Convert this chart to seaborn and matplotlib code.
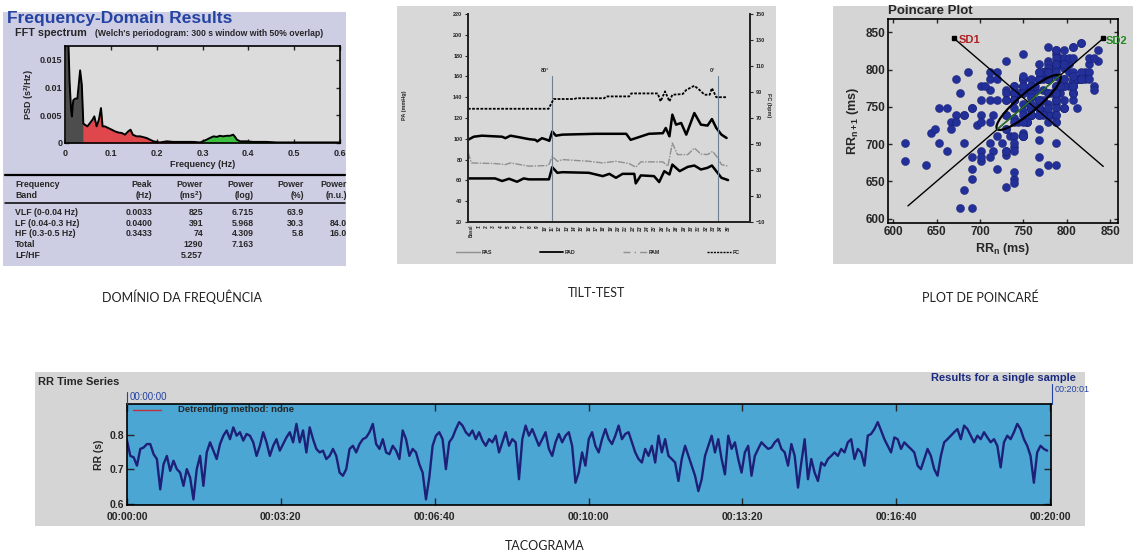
import numpy as np
import matplotlib
matplotlib.use("Agg")
import matplotlib.pyplot as plt
from matplotlib.patches import Rectangle, Ellipse
from matplotlib.lines import Line2D
import seaborn as sns

# ---------------- DATA ----------------
# FFT spectrum (Welch)
fft_freq = [0.000, 0.0033, 0.0067, 0.0100, 0.0133, 0.0150, 0.0180, 0.0220, 0.0270, 0.0330,
            0.0367, 0.0400, 0.0433, 0.0490, 0.0545, 0.0600, 0.0640, 0.0690, 0.0740, 0.0785,
            0.0820, 0.0870, 0.0945, 0.1020, 0.1090, 0.1160, 0.1240, 0.1310, 0.1380, 0.1430,
            0.1480, 0.1560, 0.1640, 0.1780, 0.1930, 0.2070, 0.2220, 0.2360, 0.2510, 0.2650,
            0.2800, 0.2950, 0.3090, 0.3160, 0.3240, 0.3310, 0.3380, 0.3450, 0.3530, 0.3600,
            0.3670, 0.3710, 0.3750, 0.3820, 0.3960, 0.4110, 0.4400, 0.4620, 0.5000, 0.6000]
fft_psd = [0.0300, 0.0300, 0.0200, 0.0110, 0.0060, 0.0048, 0.0077, 0.0080, 0.0080, 0.0131,
           0.0105, 0.0035, 0.0033, 0.0030, 0.0036, 0.0042, 0.0048, 0.0030, 0.0042, 0.0063,
           0.0030, 0.0030, 0.0027, 0.0024, 0.0021, 0.0019, 0.0018, 0.0015, 0.0021, 0.0024,
           0.0015, 0.0012, 0.0012, 0.0009, 0.0003, 0.0001, 0.0003, 0.0002, 0.0002, 0.0002,
           0.0002, 0.0001, 0.0006, 0.0009, 0.0012, 0.0011, 0.0013, 0.0012, 0.0013, 0.0013,
           0.0015, 0.0011, 0.0006, 0.0003, 0.0003, 0.0002, 0.0002, 0.0001, 0.0001, 0.0001]
bands = [(0.0, 0.04, "#4d4d4d"), (0.04, 0.3, "#e0474c"), (0.3, 0.5, "#3fbf3f")]

table_header1 = ["Frequency", "Peak", "Power", "Power", "Power", "Power"]
table_header2 = ["Band", "(Hz)", "(ms$^2$)", "(log)", "(%)", "(n.u.)"]
table_rows = [
    ["VLF (0-0.04 Hz)", "0.0033", "825", "6.715", "63.9", ""],
    ["LF (0.04-0.3 Hz)", "0.0400", "391", "5.968", "30.3", "84.0"],
    ["HF (0.3-0.5 Hz)", "0.3433", "74", "4.309", "5.8", "16.0"],
    ["Total", "", "1290", "7.163", "", ""],
    ["LF/HF", "", "5.257", "", "", ""],
]

# Tilt test
pas_x = [0, 0.78, 1.9, 4.66, 5.1, 5.8, 6.9, 8.3, 9.2, 9.45, 10.1, 10.8, 11.1, 11.5, 12.0, 12.9,
         17.4, 21.6, 22.2, 22.9, 24.7, 26.6, 27.0, 27.5, 27.9, 28.4, 29.1, 29.8, 30.9, 31.8,
         32.7, 33.3, 33.9, 34.6, 35.3]
pas_y = [99, 102, 103, 102, 100.6, 103, 101.6, 99.7, 99, 97.5, 100.6, 99, 98, 107, 103, 104,
         104.8, 104.8, 99, 100.6, 104.8, 105.4, 110.4, 102.4, 123.2, 113.6, 115.2, 104, 124.8, 113.6,
         112.7, 119, 110.4, 104, 100.8]
pam_x = [0, 0.46, 3.7, 5.1, 5.8, 8.3, 10.8, 11.1, 11.5, 12.2, 12.9, 16.5, 18.4, 20.2, 22.0,
         22.9, 23.6, 26.6, 27.3, 27.9, 28.6, 30.0, 30.9, 31.8, 32.7, 33.4, 34.1, 34.6, 35.5]
pam_y = [87, 76.8, 76.2, 75.2, 76.8, 73.7, 74.3, 75.9, 83.2, 78.4, 80, 78.4, 76.8, 78.4, 76.2,
         72.7, 77.8, 77.8, 73.7, 95.9, 84.8, 84.8, 91.1, 85.4, 84.8, 87.9, 81.6, 75.2, 73.7]
pad_x = [0, 3.7, 4.66, 5.6, 6.7, 7.6, 8.3, 11.05, 11.5, 12.2, 12.9, 16.5, 18.4, 19.3, 20.2,
         21.1, 22.7, 22.9, 23.6, 25.4, 26.1, 26.8, 27.5, 27.9, 28.9, 30.0, 30.9, 31.8, 32.7,
         33.3, 33.9, 34.6, 35.5]
pad_y = [61.9, 61.9, 59.4, 61.6, 58.7, 61.9, 61, 61, 72.7, 67.3, 67.9, 67.3, 64.1, 66.3, 62.5,
         66.3, 66.3, 57.1, 64.8, 64.1, 58.4, 68.9, 65.7, 75.2, 68.9, 73, 74.3, 70.5, 72.1,
         74.3, 68.9, 62.5, 60.3]
fc_x = [0, 11.0, 11.7, 14.5, 14.8, 18.6, 18.9, 22.0, 22.3, 25.9, 26.3, 26.9, 27.5, 27.9,
        29.3, 29.8, 30.9, 31.6, 32.3, 33.0, 33.3, 33.9, 35.3]
fc_y = [77.1, 77.1, 84.6, 84.6, 85.2, 85.2, 86.6, 86.6, 88.9, 88.9, 82.8, 90.5, 82.8, 87.9,
        88.4, 91.6, 94.8, 91.6, 87.9, 87.9, 93.0, 86.0, 86.0]
tilt_events = [(11.4, "80°"), (34.1, "0°")]
tilt_tick_labels = ["Basal"] + [f"{i}'" for i in range(1, 36)]

# RR series (ms), equally spaced samples over the 20-min record
rr_ms = [783, 739, 735, 711, 759, 763, 773, 773, 744, 730,
         643, 715, 739, 696, 725, 701, 691, 653, 701, 677,
         614, 701, 739, 653, 749, 778, 754, 730, 773, 797,
         812, 787, 821, 797, 807, 783, 802, 797, 778, 739,
         768, 807, 778, 739, 768, 787, 754, 773, 792, 807,
         778, 831, 778, 812, 749, 821, 787, 759, 749, 754,
         730, 739, 759, 739, 691, 682, 701, 759, 768, 749,
         773, 787, 792, 807, 831, 773, 759, 787, 749, 744,
         768, 754, 730, 812, 787, 739, 759, 749, 715, 691,
         614, 677, 768, 797, 807, 787, 701, 778, 792, 816,
         836, 826, 807, 797, 812, 787, 807, 783, 768, 787,
         778, 797, 749, 778, 807, 768, 787, 778, 672, 787,
         826, 797, 816, 792, 768, 787, 807, 759, 739, 778,
         802, 778, 797, 807, 768, 662, 691, 749, 711,
         787, 807, 768, 749, 787, 816, 787, 773, 797, 826,
         787, 802, 807, 778, 749, 730, 720, 759, 739, 768,
         720, 797, 749, 787, 739, 730, 720, 667, 730, 768,
         739, 711, 682, 638, 672, 739, 768, 797, 749, 787,
         730, 686, 797, 759, 778, 730, 691, 749, 768, 682,
         739, 759, 778, 768, 759, 763, 778, 787, 759, 749,
         711, 773, 739, 648, 720, 787, 672, 730, 691, 667,
         720, 711, 730, 739, 749, 739, 759, 749, 778, 787,
         730, 759, 749, 711, 797, 802, 816, 836, 812, 787,
         768, 749, 792, 787, 759, 778, 768, 759, 749, 711,
         701, 730, 759, 739, 701, 682, 739, 778, 787, 797,
         807, 816, 787, 826, 816, 797, 778, 797, 787, 807,
         792, 778, 787, 768, 706, 778, 797, 787, 807, 831,
         816, 787, 768, 739, 662, 749, 768, 759, 754]
rr_duration_s = 1196
rr_tick_s = [0, 200, 400, 600, 800, 1000, 1200]
rr_tick_labels = ["00:00:00", "00:03:20", "00:06:40", "00:10:00", "00:13:20", "00:16:40", "00:20:00"]

# Poincare descriptors
sd_center = 756
sd1_half, sd2_half = 12, 51
sd2_line = (617, 842)
sd1_line = ((670, 842), (842, 670))

captions = ["DOMÍNIO DA FREQUÊNCIA", "TILT-TEST", "PLOT DE POINCARÉ", "TACOGRAMA"]

# ---------------- STYLE ----------------
sns.set_theme(style="ticks")
plt.rcParams["font.family"] = ["Liberation Sans", "DejaVu Sans"]
plt.rcParams["mathtext.fontset"] = "custom"
plt.rcParams["mathtext.rm"] = "Liberation Sans:bold"
plt.rcParams["mathtext.bf"] = "Liberation Sans:bold"
plt.rcParams["mathtext.it"] = "Liberation Sans:bold"
plt.rcParams["mathtext.default"] = "rm"

W, H = 1133, 556
fig = plt.figure(figsize=(W / 100, H / 100), dpi=100, facecolor="white")


def rect(l, t, r, b):
    return [l / W, 1 - b / H, (r - l) / W, (b - t) / H]


def bg(l, t, r, b, color):
    fig.add_artist(Rectangle((l / W, 1 - b / H), (r - l) / W, (b - t) / H,
                             transform=fig.transFigure, facecolor=color,
                             edgecolor="none", zorder=-5))


def ftext(x, y, s, **kw):
    kw.setdefault("va", "center")
    fig.text(x / W, 1 - y / H, s, **kw)


def fline(xs, ys, **kw):
    fig.add_artist(Line2D([x / W for x in xs], [1 - y / H for y in ys],
                          transform=fig.transFigure, **kw))


def box_style(ax, lw=1.2, size=6.5):
    for s in ax.spines.values():
        s.set_color("black")
        s.set_linewidth(lw)
    ax.tick_params(direction="in", top=True, right=True, length=3, width=1,
                   labelsize=size, pad=2)
    for lab in ax.get_xticklabels() + ax.get_yticklabels():
        lab.set_fontweight("bold")


# ---------------- FFT PANEL ----------------
bg(3, 12, 346, 266, "#cdcde3")
ftext(7, 19, "Frequency-Domain Results", color="#2443a3", fontsize=12.5, fontweight="bold")
ftext(15, 33, "FFT spectrum", fontsize=7.8, fontweight="bold")
ftext(95, 33, "(Welch's periodogram: 300 s window with 50% overlap)", fontsize=6.2, fontweight="bold")

axf = fig.add_axes(rect(65, 46, 340, 143))
axf.set_facecolor("#dcdcdc")
f = np.array(fft_freq)
p = np.array(fft_psd)
for lo, hi, col in bands:
    fb = np.concatenate([[lo], f[(f > lo) & (f < hi)], [hi]])
    axf.fill_between(fb, np.interp(fb, f, p), color=col, lw=0)
sns.lineplot(x=fft_freq, y=fft_psd, color="black", lw=1.4, ax=axf, estimator=None)
axf.set_xlim(0, 0.6)
axf.set_ylim(0, 0.0175)
axf.set_xticks([0, 0.1, 0.2, 0.3, 0.4, 0.5, 0.6])
axf.set_xticklabels(["0", "0.1", "0.2", "0.3", "0.4", "0.5", "0.6"])
axf.set_yticks([0, 0.005, 0.01, 0.015])
axf.set_yticklabels(["0", "0.005", "0.01", "0.015"])
box_style(axf, size=6.5)
axf.tick_params(axis="x", pad=4)
axf.set_xlabel("Frequency (Hz)", fontsize=6.5, fontweight="bold", labelpad=2)
axf.set_ylabel("PSD (s$^2$/Hz)", fontsize=6.5, fontweight="bold", labelpad=3)

fline([5, 345], [175, 175], color="black", lw=1.6)
fline([5, 345], [203, 203], color="black", lw=1.1)
col_x = [15, 152, 203, 254, 304, 347]
for j, (h1, h2) in enumerate(zip(table_header1, table_header2)):
    ha = "left" if j == 0 else "right"
    ftext(col_x[j], 185, h1, fontsize=6.3, fontweight="bold", ha=ha)
    ftext(col_x[j], 196, h2, fontsize=6.3, fontweight="bold", ha=ha)
for i, row in enumerate(table_rows):
    y = 212 + i * 11
    for j, v in enumerate(row):
        if v:
            ha = "left" if j == 0 else "right"
            ftext(col_x[j], y, v, fontsize=6.3, fontweight="bold", ha=ha)

# ---------------- TILT PANEL ----------------
bg(397, 6, 776, 264, "#d8d8d8")
axt = fig.add_axes(rect(468, 14, 750, 222))
axt.set_facecolor("#d8d8d8")
sns.lineplot(x=pam_x, y=pam_y, color="#8f8f8f", lw=1.0, ax=axt, estimator=None,
             linestyle=(0, (5, 1, 1, 1)))
sns.lineplot(x=pas_x, y=pas_y, color="black", lw=1.8, ax=axt, estimator=None)
sns.lineplot(x=pad_x, y=pad_y, color="black", lw=1.8, ax=axt, estimator=None)
for xe, lab in tilt_events:
    axt.plot([xe, xe], [20, 160], color="#6f7f8f", lw=0.8)
    axt.text(xe - 0.3, 163, lab, fontsize=4, fontweight="bold", ha="right", va="bottom")
axt.set_xlim(0, 38.5)
axt.set_ylim(20, 220)
axt.set_yticks(range(20, 221, 20))
axt.set_xticks(np.arange(len(tilt_tick_labels)) + 0.5)
axt.set_xticklabels(tilt_tick_labels, rotation=90, fontsize=3.3, fontweight="bold")
axt.tick_params(axis="y", labelsize=4, length=2, width=0.8, pad=2)
axt.tick_params(axis="x", length=0, pad=2)
for lab in axt.get_yticklabels():
    lab.set_fontweight("bold")
axt.spines["top"].set_visible(False)
for s in ["left", "bottom", "right"]:
    axt.spines[s].set_linewidth(1.2)
    axt.spines[s].set_color("black")

axr = axt.twinx()
sns.lineplot(x=fc_x, y=fc_y, color="black", lw=1.3, ax=axr, estimator=None,
             linestyle=(0, (1.5, 0.8)))
axr.set_ylim(-10, 150)
axr.set_yticks(range(-10, 151, 20))
axr.tick_params(axis="y", labelsize=4, length=2, width=0.8, pad=2)
for lab in axr.get_yticklabels():
    lab.set_fontweight("bold")
axr.spines["top"].set_visible(False)
axr.spines["right"].set_linewidth(1.2)
axr.set_ylabel("")
axt.set_ylabel("")
ftext(405, 105, "PA (mmHg)", rotation=90, fontsize=4, fontweight="bold", ha="center")
ftext(769, 105, "FC (bpm)", rotation=270, fontsize=4, fontweight="bold", ha="center")

handles = [Line2D([], [], color="#8f8f8f", lw=1.0),
           Line2D([], [], color="black", lw=1.3),
           Line2D([], [], color="#8f8f8f", lw=1.0, linestyle=(0, (5, 3, 1, 3))),
           Line2D([], [], color="black", lw=1.0, linestyle=(0, (1.5, 0.8)))]
leg = fig.legend(handles, ["PAS", "PAD", "PAM", "FC"], loc="center",
                 bbox_to_anchor=(598 / W, 1 - 252 / H), ncol=4, frameon=False,
                 prop={"size": 3.8, "weight": "bold"}, handlelength=4.5,
                 columnspacing=9, handletextpad=0.3)

# ---------------- POINCARE PANEL ----------------
bg(833, 6, 1133, 264, "#d5d5d5")
axp = fig.add_axes(rect(888, 19, 1118, 223))
axp.set_facecolor("#d5d5d5")
rr = np.array(rr_ms)
sns.scatterplot(x=rr[:-1], y=rr[1:], s=34, color="#23309a", edgecolor="#141d6b",
                linewidth=0.3, ax=axp, zorder=2)
axp.plot(sd2_line, sd2_line, color="black", lw=1.0, zorder=3)
(x1, y1), (x2, y2) = sd1_line
axp.plot([x1, x2], [y1, y2], color="black", lw=1.0, zorder=3)
axp.plot([x1, sd2_line[1]], [y1, sd2_line[1]], ls="none", marker="s", ms=2.5,
         color="black", zorder=4)
axp.add_patch(Ellipse((sd_center, sd_center), 2 * sd2_half, 2 * sd1_half, angle=45,
                      fill=False, ec="black", lw=1.6, zorder=4))
axp.plot([sd_center - sd2_half / np.sqrt(2), sd_center + sd2_half / np.sqrt(2)],
         [sd_center - sd2_half / np.sqrt(2), sd_center + sd2_half / np.sqrt(2)],
         color="#2a7a2a", lw=1.0, zorder=5)
axp.text(x1 + 5, y1 - 2, "SD1", color="#b02020", fontsize=8, fontweight="bold", va="center")
axp.text(sd2_line[1] + 3, sd2_line[1] - 4, "SD2", color="#208a20", fontsize=8,
         fontweight="bold", va="center")
axp.set_xlim(594, 859)
axp.set_ylim(594, 868)
axp.set_xticks([600, 650, 700, 750, 800, 850])
axp.set_yticks([600, 650, 700, 750, 800, 850])
box_style(axp, size=8.5)
axp.set_xlabel("RR$_{n}$ (ms)", fontsize=9, fontweight="bold", labelpad=2)
axp.set_ylabel("RR$_{n+1}$ (ms)", fontsize=9, fontweight="bold", labelpad=3)
ftext(888, 11, "Poincare Plot", fontsize=9.5, fontweight="bold")

# ---------------- RR SERIES PANEL ----------------
bg(35, 372, 1085, 526, "#d5d5d5")
axs = fig.add_axes(rect(127, 404, 1051, 505))
axs.set_facecolor("#4ba6d3")
t = np.linspace(0, rr_duration_s, len(rr_ms))
sns.lineplot(x=t, y=rr / 1000.0, color="#1e1f78", lw=1.7, ax=axs, estimator=None)
axs.set_xlim(0, 1201)
axs.set_ylim(0.598, 0.888)
axs.set_yticks([0.6, 0.7, 0.8])
axs.set_yticklabels(["0.6", "0.7", "0.8"])
axs.set_xticks(rr_tick_s)
axs.set_xticklabels(rr_tick_labels)
box_style(axs, size=7.5)
axs.tick_params(length=5)
axs.tick_params(axis="x", pad=5)
axs.set_ylabel("RR (s)", fontsize=7.5, fontweight="bold", labelpad=4)
ftext(38, 382, "RR Time Series", fontsize=8, fontweight="bold")
ftext(1076, 378, "Results for a single sample", fontsize=8, fontweight="bold",
      color="#1a2a80", ha="right")
ftext(130, 397, "00:00:00", fontsize=7, color="#2443a3")
fline([127, 127], [392, 404], color="#2443a3", lw=0.8)
ftext(1055, 390, "00:20:01", fontsize=6.5, color="#2443a3")
fline([1052, 1052], [384, 404], color="#2443a3", lw=0.8)
fline([133, 161], [410, 410], color="#c0303a", lw=1.0)
ftext(178, 410, "Detrending method: none", fontsize=6.8, fontweight="bold")

# ---------------- CAPTIONS ----------------
cap_kw = dict(fontsize=9, ha="center", color="#222222", family=["Lato", "DejaVu Sans"])
ftext(182, 297, captions[0], **cap_kw)
ftext(597, 293, captions[1], **cap_kw)
ftext(980, 298, captions[2], **cap_kw)
ftext(545, 546, captions[3], **cap_kw)

fig.savefig("out.png", dpi=100, facecolor="white")
